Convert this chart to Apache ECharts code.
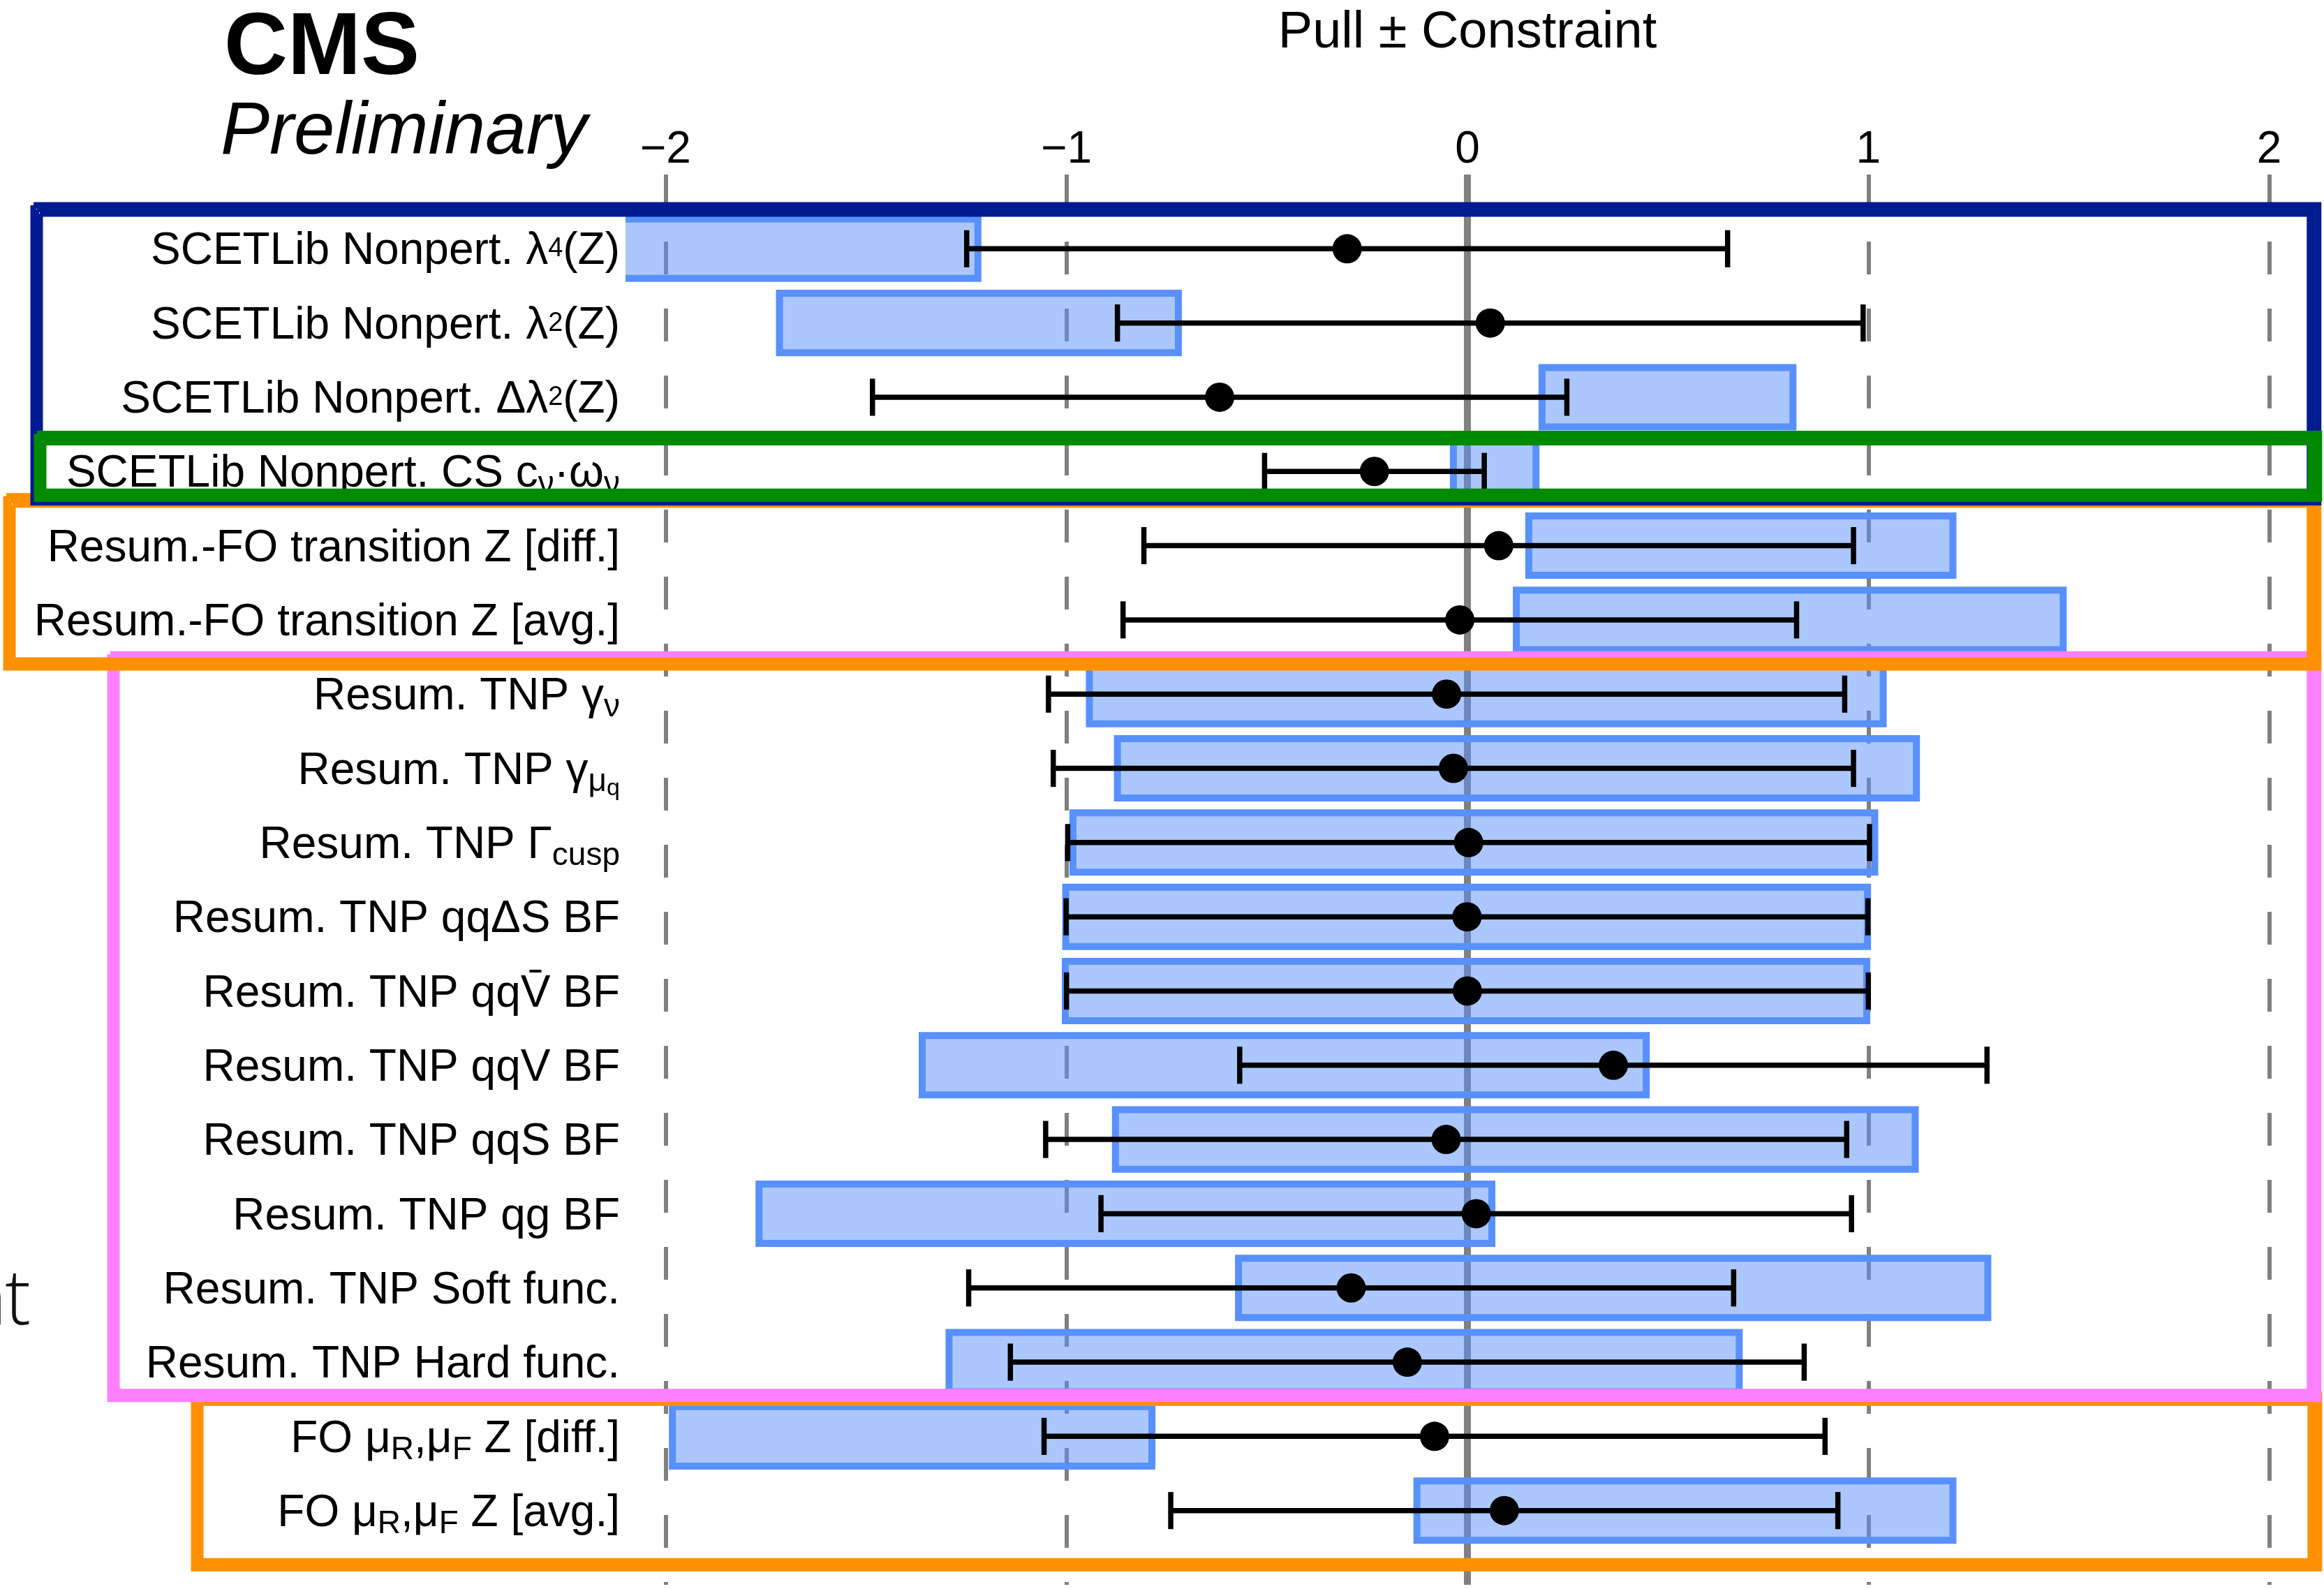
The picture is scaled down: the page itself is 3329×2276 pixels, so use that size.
<!DOCTYPE html>
<html><head><meta charset="utf-8">
<script src="https://cdn.jsdelivr.net/npm/echarts@6/dist/echarts.min.js"></script>
<style>html,body{margin:0;padding:0;background:#fff}#c{width:3329px;height:2276px}</style>
</head><body><div id="c"></div>
<script>
// ---------------- data ----------------
const labels = [
  'SCETLib Nonpert. λ{sup|4}(Z)',
  'SCETLib Nonpert. λ{sup|2}(Z)',
  'SCETLib Nonpert. Δλ{sup|2}(Z)',
  'SCETLib Nonpert. CS c{sub|ν}·ω{sub|ν}',
  'Resum.-FO transition Z [diff.]',
  'Resum.-FO transition Z [avg.]',
  'Resum. TNP γ{sub|ν}',
  'Resum. TNP γ{sub|μ}{subsub|q}',
  'Resum. TNP Γ{sub|cusp}',
  'Resum. TNP qqΔS BF',
  'Resum. TNP qqV\u0304 BF',
  'Resum. TNP qqV BF',
  'Resum. TNP qqS BF',
  'Resum. TNP qg BF',
  'Resum. TNP Soft func.',
  'Resum. TNP Hard func.',
  'FO μ{sub|R},μ{sub|F} Z [diff.]',
  'FO μ{sub|R},μ{sub|F} Z [avg.]'
];
const pulls = [-0.300, 0.057, -0.618, -0.232, 0.078, -0.019, -0.052, -0.035, 0.003, -0.001, 0.000, 0.364, -0.053, 0.022, -0.290, -0.150, -0.082, 0.092];
const constraints = [0.949, 0.930, 0.866, 0.274, 0.885, 0.840, 0.993, 0.998, 1.000, 1.000, 1.000, 0.932, 0.999, 0.936, 0.954, 0.990, 0.974, 0.832];
const boxLow  = [-2.300, -1.716, 0.186, -0.035, 0.153, 0.122, -0.943, -0.873, -0.984, -1.002, -1.003, -1.360, -0.878, -1.767, -0.571, -1.293, -1.983, -0.126];
const boxHigh = [-1.221, -0.721, 0.812, 0.171, 1.211, 1.486, 1.037, 1.120, 1.016, 0.998, 0.996, 0.446, 1.117, 0.061, 1.298, 0.678, -0.787, 1.211];
const axisTitle = 'Pull \u00b1 Constraint';

// group annotation frames: [colour, left px, top (row units), bottom (row units), right (pull units)]
const frames = [
  ['#ff9000', 283, 16.50, 18.72, 2.112],
  ['#ff80ff', 163, 6.53, 16.44, 2.110],
  ['#ff9000', 14, 4.40, 6.585, 2.110],
  ['#001a8f', 53, 0.48, 4.36, 2.110],
  ['#008a00', 58, 3.56, 4.31, 2.112]
];

// ---------------- chart ----------------
const FONT = '"Liberation Sans", Arial, Helvetica, sans-serif';
const rows = labels.map((_, i) => i + 1);
const boxData = rows.map((r, i) => [r, boxLow[i], boxHigh[i]]);
const errData = rows.map((r, i) => [r, pulls[i], constraints[i]]);
const dotData = rows.map((r, i) => [pulls[i], r]);

const chart = echarts.init(document.getElementById('c'), null, {renderer: 'canvas'});
const option = {
  animation: false,
  backgroundColor: '#ffffff',
  grid: {left: 896, right: 21, top: 250, bottom: 6, containLabel: false},
  xAxis: {
    type: 'value', position: 'top', min: -2.1, max: 2.1, splitNumber: 4,
    axisLine: {show: false}, axisTick: {show: false},
    axisLabel: {
      showMinLabel: false, showMaxLabel: false, margin: 3,
      fontSize: 64, color: '#000', fontFamily: FONT,
      formatter: v => (Math.abs(v) > 2.05 ? '' : (v < 0 ? '\u2212' + Math.abs(v) : String(v)))
    },
    splitLine: {show: true, showMinLine: false, showMaxLine: false,
      lineStyle: {color: '#808080', width: 6, type: [47, 49]}}
  },
  yAxis: {
    type: 'value', inverse: true, min: 0, max: 19, interval: 1,
    axisLine: {show: false}, axisTick: {show: false}, splitLine: {show: false},
    axisLabel: {
      margin: 8, fontSize: 64, lineHeight: 64, fontFamily: FONT, color: '#000',
      padding: [9, 0, 0, 0],
      formatter: v => (v >= 1 && v <= 18 ? labels[v - 1] : ''),
      rich: {
        sup: {fontSize: 38, fontFamily: FONT, color: '#000', lineHeight: 64, padding: [0, 0, 8, 0]},
        sub: {fontSize: 46, fontFamily: FONT, color: '#000', lineHeight: 64, padding: [30, 0, 0, 0]},
        subsub: {fontSize: 34, fontFamily: FONT, color: '#000', lineHeight: 64, padding: [50, 0, 0, 0]}
      }
    }
  },
  series: [
    {
      type: 'custom', name: 'zero', z: 1, silent: true,
      data: [[0]],
      encode: {x: 0},
      renderItem: (params, api) => {
        const a = api.coord([0, 0]), b = api.coord([0, 19]);
        return {type: 'line', shape: {x1: a[0], y1: a[1], x2: b[0], y2: b[1]},
          style: {stroke: '#808080', lineWidth: 10}};
      }
    },
    {
      type: 'custom', name: 'box', z: 2, clip: true, silent: true,
      data: boxData,
      encode: {x: [1, 2], y: 0},
      renderItem: (params, api) => {
        const y = api.value(0), lo = api.value(1), hi = api.value(2);
        const p1 = api.coord([lo, y - 0.4]);
        const p2 = api.coord([hi, y + 0.4]);
        return {type: 'rect',
          shape: {x: Math.min(p1[0], p2[0]), y: Math.min(p1[1], p2[1]),
                  width: Math.abs(p2[0] - p1[0]), height: Math.abs(p2[1] - p1[1])},
          style: {fill: 'rgba(88,144,252,0.5)', stroke: '#5890fc', lineWidth: 10}};
      }
    },
    {
      type: 'custom', name: 'err', z: 3, silent: true,
      data: errData,
      encode: {x: 1, y: 0},
      renderItem: (params, api) => {
        const y = api.value(0), p = api.value(1), c = api.value(2);
        const a = api.coord([p - c, y]), b = api.coord([p + c, y]);
        const h = Math.abs(api.size([0, 0.25])[1]);
        const st = {stroke: '#000', lineWidth: 7.5};
        return {type: 'group', children: [
          {type: 'line', shape: {x1: a[0], y1: a[1], x2: b[0], y2: b[1]}, style: st},
          {type: 'line', shape: {x1: a[0], y1: a[1] - h, x2: a[0], y2: a[1] + h}, style: st},
          {type: 'line', shape: {x1: b[0], y1: b[1] - h, x2: b[0], y2: b[1] + h}, style: st}
        ]};
      }
    },
    {
      type: 'scatter', name: 'pull', z: 4, silent: true,
      data: dotData, symbol: 'circle', symbolSize: 42,
      itemStyle: {color: '#000', opacity: 1}
    }
  ]
};
chart.setOption(option);

// ---------------- decorations ----------------
const g = [];
g.push({type: 'text', z: 60, style: {text: 'CMS', x: 321, y: 71, fontSize: 126, fontWeight: 'bold',
  fontFamily: FONT, fill: '#000', align: 'left', verticalAlign: 'middle'}});
g.push({type: 'text', z: 60, style: {text: 'Preliminary', x: 316, y: 191, fontSize: 105, fontStyle: 'italic',
  fontFamily: FONT, fill: '#000', align: 'left', verticalAlign: 'middle'}});
const zx = chart.convertToPixel({xAxisIndex: 0}, 0);
g.push({type: 'text', z: 60, style: {text: axisTitle, x: zx, y: 48, fontSize: 74,
  fontFamily: FONT, fill: '#000', align: 'center', verticalAlign: 'middle'}});
// cut-off word fragment at the left edge
g.push({type: 'text', z: 60, style: {text: 'n', x: 10, y: 1866, fontSize: 110, fontWeight: 300,
  fontFamily: '"Open Sans", Lato, sans-serif', fill: '#111', align: 'right', verticalAlign: 'middle'}});
g.push({type: 'text', z: 60, style: {text: 't', x: 44, y: 1866, fontSize: 110, fontWeight: 300,
  fontFamily: '"Open Sans", Lato, sans-serif', fill: '#111', align: 'right', verticalAlign: 'middle'}});

const strokes = [
  {o: [-5, -7, 7, 6], w: 9},
  {o: [4, 5, -5, -4], w: 9},
  {o: [0, 0, 0, 0], w: 6}
];
frames.forEach(f => {
  const [col, L, tv, bv, rv] = f;
  const T = chart.convertToPixel({yAxisIndex: 0}, tv);
  const B = chart.convertToPixel({yAxisIndex: 0}, bv);
  const R = chart.convertToPixel({xAxisIndex: 0}, rv);
  strokes.forEach(s => {
    const l = L + s.o[0], t = T + s.o[1], r = R + s.o[2], b = B + s.o[3];
    g.push({type: 'polyline', z: 50, silent: true,
      shape: {points: [[l, t], [r, t], [r, b], [l, b], [l, t]]},
      style: {stroke: col, lineWidth: s.w, fill: null, lineJoin: 'miter'}});
  });
});
chart.setOption({graphic: {elements: g}});
</script>
</body></html>
